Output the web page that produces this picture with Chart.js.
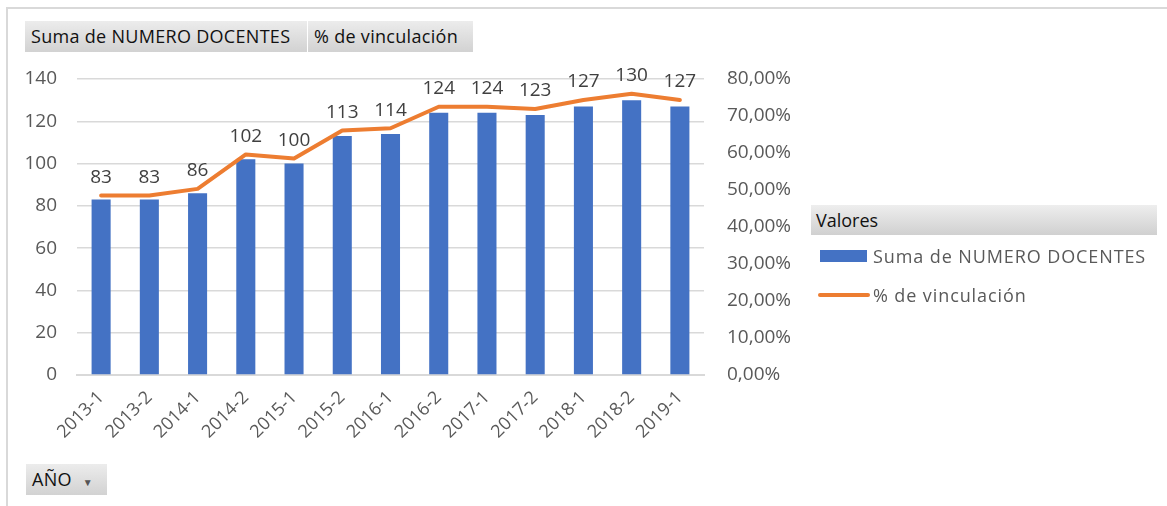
<!DOCTYPE html>
<html>
<head>
<meta charset="utf-8">
<script src="https://cdn.jsdelivr.net/npm/chart.js@4.4.1/dist/chart.umd.min.js"></script>
<style>
  body { margin: 0; background: #fff; }
  #wrap { position: relative; width: 1167px; height: 506px; overflow: hidden; font-family: "Open Sans", sans-serif; }
  #frame { position: absolute; left: 6px; top: 7px; right: -5px; bottom: -5px; border-left: 2px solid #d9d9d9; border-top: 2px solid #d9d9d9; }
  canvas { position: absolute; left: 0; top: 0; }
  .btn { position: absolute; height: 31px; line-height: 31px; font-size: 18px; letter-spacing: 0.3px; color: #111; padding-left: 6px; box-sizing: border-box;
         background: linear-gradient(#ececec, #d2d2d2); white-space: nowrap; }
  #valores { position: absolute; left: 811px; top: 205px; width: 346px; height: 30px; line-height: 30px; font-size: 18px; color: #111;
             padding-left: 5px; box-sizing: border-box; background: linear-gradient(#eeeeee, #d0d0d0); }
  .leg { position: absolute; left: 873px; font-size: 18px; letter-spacing: 0.9px; color: #595959; line-height: 22px; white-space: nowrap; }
</style>
</head>
<body>
<div id="wrap">
  <div id="frame"></div>
  <canvas id="combo" width="1167" height="506"></canvas>
  <div class="btn" style="left:25px;top:21px;width:282px;">Suma de NUMERO DOCENTES</div>
  <div class="btn" style="left:308px;top:21px;width:165px;">% de vinculación</div>
  <div class="btn" style="left:26px;top:464px;width:81px;">AÑO <span style="font-size:10px;margin-left:6px;color:#555;">&#9660;</span></div>
  <div id="valores">Valores</div>
  <div style="position:absolute;left:820px;top:250px;width:47px;height:12px;background:#4472C4;"></div>
  <div class="leg" style="top:245px;">Suma de NUMERO DOCENTES</div>
  <div style="position:absolute;left:818px;top:293px;width:52px;height:4px;border-radius:2px;background:#ED7D31;"></div>
  <div class="leg" style="top:284px;">% de vinculación</div>
</div>
<script>
var periodos = ['2013-1', '2013-2', '2014-1', '2014-2', '2015-1', '2015-2', '2016-1', '2016-2', '2017-1', '2017-2', '2018-1', '2018-2', '2019-1']
var docentes = [83, 83, 86, 102, 100, 113, 114, 124, 124, 123, 127, 130, 127]
var vinculacion = [48.5, 48.5, 50.3, 59.6, 58.5, 66.1, 66.7, 72.5, 72.5, 71.9, 74.3, 76.0, 74.3]

var etiquetas = {
    id: 'etiquetas',
    afterDatasetsDraw: function(chart) {
        var c = chart.ctx
        var linea = chart.getDatasetMeta(1).data
        c.save()
        c.font = '19px "Open Sans"'
        c.fillStyle = '#404040'
        c.textAlign = 'center'
        c.textBaseline = 'middle'
        for (var i = 0; i < docentes.length; i++) {
            c.fillText(docentes[i], linea[i].x, linea[i].y - 18)
        }
        c.restore()
    }
}

const ctx = document.getElementById('combo');
new Chart(ctx, {
    data: {
        labels: periodos,
        datasets: [{
            type: 'bar',
            label: 'Suma de NUMERO DOCENTES',
            data: docentes,
            backgroundColor: '#4472C4',
            categoryPercentage: 1,
            barPercentage: 0.395,
            yAxisID: 'y',
            order: 1
        }, {
            type: 'line',
            label: '% de vinculación',
            data: vinculacion,
            borderColor: '#ED7D31',
            borderWidth: 4,
            pointRadius: 0,
            borderCapStyle: 'round',
            borderJoinStyle: 'round',
            tension: 0,
            yAxisID: 'y1',
            order: 0
        }]
    },
    options: {
        responsive: false,
        animation: false,
        layout: { padding: { top: 79, left: 0, right: 0, bottom: 0 } },
        scales: {
            x: {
                grid: { display: false },
                border: { display: true, color: '#d9d9d9', width: 2 },
                ticks: { color: '#595959', font: { family: 'Open Sans', size: 18 }, minRotation: 45, maxRotation: 45, padding: 4 },
                afterFit: function(s) { s.height = 131 }
            },
            y: {
                position: 'left',
                min: 0,
                max: 140,
                grid: { color: '#d9d9d9', lineWidth: 1.5, drawTicks: false },
                border: { display: false },
                ticks: { stepSize: 20, color: '#595959', font: { family: 'Open Sans', size: 19 }, padding: 20 },
                afterFit: function(s) { s.width = 77 }
            },
            y1: {
                position: 'right',
                min: 0,
                max: 80,
                grid: { display: false, drawTicks: false },
                border: { display: false },
                ticks: {
                    stepSize: 10, color: '#595959', font: { family: 'Open Sans', size: 19 }, padding: 23,
                    callback: function(v) { return v.toFixed(2).replace('.', ',') + '%' }
                },
                afterFit: function(s) { s.width = 463 }
            }
        },
        plugins: {
            legend: { display: false },
            tooltip: { enabled: false }
        }
    },
    plugins: [etiquetas]
});
</script>
</body>
</html>
